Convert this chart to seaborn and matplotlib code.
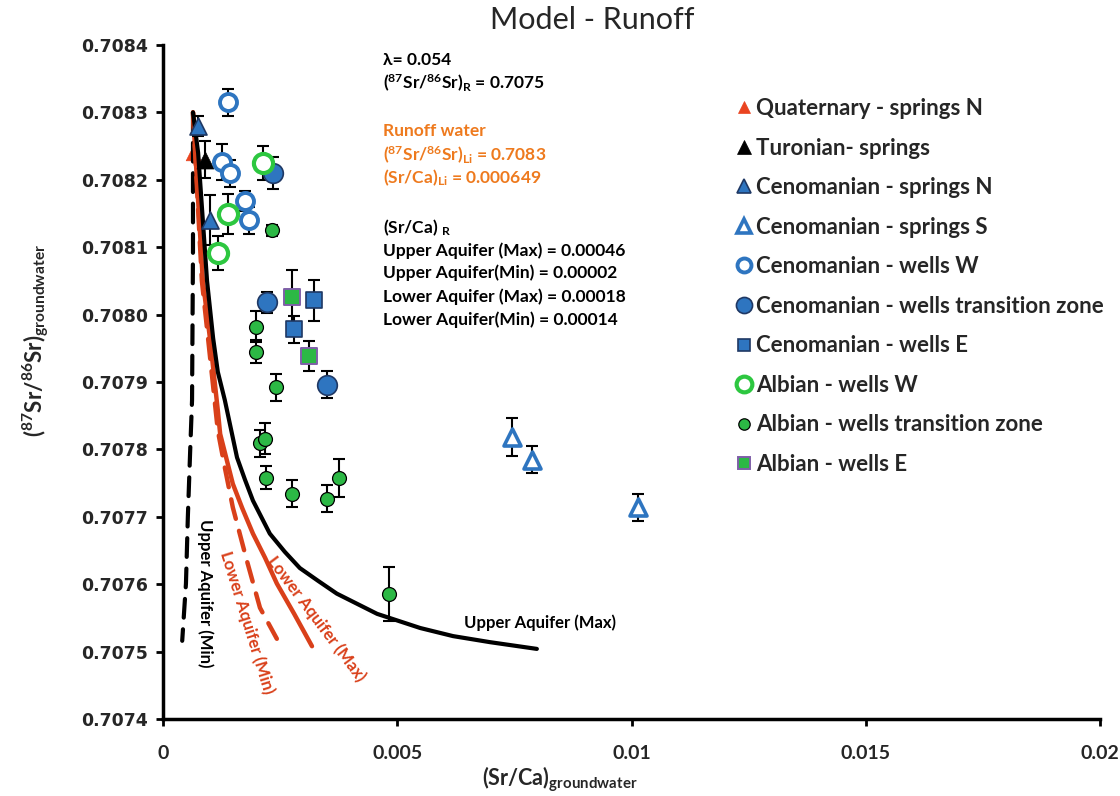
import matplotlib
matplotlib.use("Agg")
import matplotlib.pyplot as plt
from matplotlib.lines import Line2D
import seaborn as sns

# ---- model curves: (Sr/Ca) vs 87Sr/86Sr ----
upper_max_x = [0.00064, 0.00075, 0.00094, 0.00107, 0.00117, 0.00132, 0.00158, 0.00175, 0.00192,
               0.00228, 0.00260, 0.00292, 0.00331, 0.00371, 0.00414, 0.00457, 0.00549, 0.00619,
               0.00698, 0.00798]
upper_max_y = [0.70830, 0.70824, 0.70805, 0.707965, 0.707915, 0.707873, 0.707788, 0.707755, 0.707724,
               0.707675, 0.707648, 0.707624, 0.707605, 0.707586, 0.707571, 0.707556, 0.707535, 0.707523,
               0.707514, 0.707504]
upper_min_x = [0.00064, 0.00064, 0.00062, 0.00058, 0.00053, 0.00049, 0.00041]
upper_min_y = [0.70830, 0.708095, 0.707873, 0.707798, 0.707699, 0.707601, 0.707516]
lower_max_x = [0.00064, 0.00085, 0.00100, 0.00117, 0.00122, 0.00149, 0.00169, 0.00192, 0.00218,
               0.00243, 0.00280, 0.00318]
lower_max_y = [0.70830, 0.70805, 0.707966, 0.707858, 0.707823, 0.707749, 0.707713, 0.707675, 0.707639,
               0.707601, 0.707556, 0.707508]
lower_min_x = [0.00064, 0.00083, 0.00096, 0.00117, 0.00132, 0.00149, 0.00179, 0.00207, 0.00243]
lower_min_y = [0.70830, 0.70805, 0.707966, 0.707828, 0.707773, 0.707714, 0.707635, 0.707565, 0.707519]

# ---- groundwater samples ----
quat_n_x = [0.00064]
quat_n_y = [0.70824]
quat_n_err = [0.0]

turon_x = [0.00090]
turon_y = [0.70823]
turon_err = [0.000027]

cen_spr_n_x = [0.00075, 0.00100]
cen_spr_n_y = [0.70828, 0.70814]
cen_spr_n_err = [0.000015, 0.000037]

cen_spr_s_x = [0.00745, 0.00788, 0.01014]
cen_spr_s_y = [0.707818, 0.707785, 0.707714]
cen_spr_s_err = [0.000028, 0.00002, 0.00002]

cen_w_w_x = [0.00139, 0.00126, 0.00143, 0.00175, 0.00184]
cen_w_w_y = [0.708315, 0.708226, 0.708210, 0.708168, 0.708140]
cen_w_w_err = [0.00002, 0.000027, 0.00002, 0.000015, 0.00002]

cen_w_tz_x = [0.00235, 0.00222, 0.00350]
cen_w_tz_y = [0.708210, 0.708018, 0.707896]
cen_w_tz_err = [0.000024, 0.000015, 0.00002]

cen_w_e_x = [0.00322, 0.00280]
cen_w_e_y = [0.708021, 0.707978]
cen_w_e_err = [0.00003, 0.00002]

alb_w_w_x = [0.00213, 0.00139, 0.00117]
alb_w_w_y = [0.708225, 0.708149, 0.708091]
alb_w_w_err = [0.000025, 0.00003, 0.000025]

alb_w_tz_x = [0.00233, 0.00199, 0.00199, 0.00241, 0.00207, 0.00218, 0.00220,
              0.00275, 0.00350, 0.00376, 0.00482]
alb_w_tz_y = [0.708125, 0.707982, 0.707945, 0.707892, 0.707809, 0.707816, 0.707758,
              0.707734, 0.707727, 0.707758, 0.707586]
alb_w_tz_err = [0.000008, 0.000023, 0.000017, 0.00002, 0.00002, 0.000023, 0.000017,
                0.00002, 0.00002, 0.000028, 0.00004]

alb_w_e_x = [0.00275, 0.00312]
alb_w_e_y = [0.708026, 0.707939]
alb_w_e_err = [0.00004, 0.000022]

x_ticks = [0, 0.005, 0.01, 0.015, 0.02]
x_tick_labels = ["0", "0.005", "0.01", "0.015", "0.02"]
y_ticks = [0.7074, 0.7075, 0.7076, 0.7077, 0.7078, 0.7079, 0.7080, 0.7081, 0.7082, 0.7083, 0.7084]

legend_labels = ["Quaternary - springs N", "Turonian- springs", "Cenomanian - springs N",
                 "Cenomanian - springs S", "Cenomanian - wells W",
                 "Cenomanian - wells transition zone", "Cenomanian - wells E",
                 "Albian - wells W", "Albian - wells transition zone", "Albian - wells E"]

# ---- style ----
sns.set_theme(style="ticks")
FAM = ["Lato", "DejaVu Sans"]
plt.rcParams["font.family"] = FAM

BLUE = "#2E75C0"
NAVY = "#1F3864"
GREEN = "#2CB845"
LGREEN = "#2DC740"
RED = "#D9401A"
QRED = "#EA4420"
ORANGE = "#EE7A1E"
PURPLE = "#7F5FA8"

fig = plt.figure(figsize=(11.2, 7.96), dpi=100)
ax = fig.add_axes([163 / 1120, 77 / 796, 937 / 1120, 674 / 796])

# curves
sns.lineplot(x=upper_min_x, y=upper_min_y, sort=False, estimator=None, ax=ax,
             color="black", linewidth=3, zorder=2)
ax.lines[-1].set_dashes([4.5, 2.8])
sns.lineplot(x=lower_min_x, y=lower_min_y, sort=False, estimator=None, ax=ax,
             color=RED, linewidth=3.2, zorder=2)
ax.lines[-1].set_dashes([4.5, 2.8])
sns.lineplot(x=lower_max_x, y=lower_max_y, sort=False, estimator=None, ax=ax,
             color=RED, linewidth=3.2, zorder=2)
sns.lineplot(x=upper_max_x, y=upper_max_y, sort=False, estimator=None, ax=ax,
             color="black", linewidth=3, zorder=2)
for ln in ax.lines:
    ln.set_solid_joinstyle("round")
    ln.set_dash_capstyle("round")

groups = [
    (quat_n_x, quat_n_y, quat_n_err, dict(marker="^", s=110, color=QRED, edgecolor=QRED, linewidth=0.5), 1),
    (turon_x, turon_y, turon_err, dict(marker="^", s=150, color="black", edgecolor="black", linewidth=0.5), 4),
    (cen_spr_n_x, cen_spr_n_y, cen_spr_n_err, dict(marker="^", s=150, color=BLUE, edgecolor=NAVY, linewidth=1.2), 4),
    (cen_spr_s_x, cen_spr_s_y, cen_spr_s_err, dict(marker="^", s=150, color="white", edgecolor=BLUE, linewidth=2.6), 4),
    (cen_w_w_x, cen_w_w_y, cen_w_w_err, dict(marker="o", s=150, color="white", edgecolor=BLUE, linewidth=2.8), 4),
    (cen_w_tz_x, cen_w_tz_y, cen_w_tz_err, dict(marker="o", s=200, color=BLUE, edgecolor=NAVY, linewidth=1.2), 4),
    (cen_w_e_x, cen_w_e_y, cen_w_e_err, dict(marker="s", s=120, color=BLUE, edgecolor=NAVY, linewidth=1.2), 4),
    (alb_w_w_x, alb_w_w_y, alb_w_w_err, dict(marker="o", s=190, color="white", edgecolor=LGREEN, linewidth=3.0), 4),
    (alb_w_tz_x, alb_w_tz_y, alb_w_tz_err, dict(marker="o", s=100, color=GREEN, edgecolor="black", linewidth=0.9), 4),
    (alb_w_e_x, alb_w_e_y, alb_w_e_err, dict(marker="s", s=120, color=GREEN, edgecolor=PURPLE, linewidth=1.4), 4),
]

for gx, gy, gerr, kw, z in groups:
    if any(e > 0 for e in gerr):
        ax.errorbar(gx, gy, yerr=gerr, fmt="none", ecolor="black", elinewidth=1.5,
                    capsize=4.5, capthick=1.5, zorder=z - 0.5)
    sns.scatterplot(x=gx, y=gy, ax=ax, zorder=z, legend=False, **kw)

# axes
ax.set_xlim(0, 0.02)
ax.set_ylim(0.7074, 0.7084)
ax.set_xticks(x_ticks)
ax.set_xticklabels(x_tick_labels)
ax.set_yticks(y_ticks)
ax.set_yticklabels([f"{v:.4f}" for v in y_ticks])
sns.despine(ax=ax)
for sp in ("left", "bottom"):
    ax.spines[sp].set_linewidth(2.5)
    ax.spines[sp].set_color("black")
ax.tick_params(axis="both", direction="out", length=5, width=2, color="black")
ax.tick_params(axis="x", pad=14)
ax.tick_params(axis="y", pad=6)
for t in ax.get_xticklabels():
    t.set_fontfamily(FAM)
    t.set_fontweight("bold")
    t.set_fontsize(14)
for t in ax.get_yticklabels():
    t.set_fontfamily(["DejaVu Sans"])
    t.set_fontweight("bold")
    t.set_fontsize(12.5)

ax.set_xlabel(r"$\mathregular{(Sr/Ca)_{groundwater}}$", fontsize=15.5, fontweight="bold")
ax.xaxis.set_label_coords((560 - 163) / 937, (719 - 764) / 674)
ax.set_ylabel(r"$\mathregular{(^{87}Sr/^{86}Sr)_{groundwater}}$", fontsize=16, fontweight="bold")
ax.yaxis.set_label_coords((52 - 163) / 937, (719 - 340) / 674)

fig.text(592 / 1120, 1 - 20 / 796, "Model - Runoff", fontsize=22, ha="center", va="center")

# model parameter notes
def ftext(px, py, s, color="black", size=12.5):
    fig.text(px / 1120, 1 - py / 796, s, fontsize=size, fontweight="bold", color=color,
             ha="left", va="center")

ftext(383, 60, "λ= 0.054")
ftext(383, 83, r"$\mathregular{(^{87}Sr/^{86}Sr)_{R}}$ = 0.7075")
ftext(383, 131, "Runoff water", ORANGE)
ftext(383, 155, r"$\mathregular{(^{87}Sr/^{86}Sr)_{Li}}$ = 0.7083", ORANGE)
ftext(383, 178, r"$\mathregular{(Sr/Ca)_{Li}}$ = 0.000649", ORANGE)
ftext(383, 228, r"(Sr/Ca)$\mathregular{_{\ R}}$")
ftext(383, 251, "Upper Aquifer (Max) = 0.00046")
ftext(383, 273, "Upper Aquifer(Min) = 0.00002")
ftext(383, 297, "Lower Aquifer (Max) = 0.00018")
ftext(383, 320, "Lower Aquifer(Min) = 0.00014")

# curve labels
ax.text(0.00090, 0.707586, "Upper Aquifer (Min)", rotation=-90, fontsize=12, fontweight="bold",
        color="black", ha="center", va="center", rotation_mode="anchor")
ax.text(0.00179, 0.707543, "Lower Aquifer (Min)", rotation=-72.7, fontsize=12, fontweight="bold",
        color=RED, ha="center", va="center", rotation_mode="anchor")
ax.text(0.00327, 0.707549, "Lower Aquifer (Max)", rotation=-53, fontsize=12, fontweight="bold",
        color=RED, ha="center", va="center", rotation_mode="anchor")
ax.text(0.00805, 0.707543, "Upper Aquifer (Max)", fontsize=12, fontweight="bold",
        color="black", ha="center", va="center")

# legend
handles = []
for (gx, gy, gerr, kw, z) in groups:
    ms = (kw["s"] ** 0.5) * 0.82
    handles.append(Line2D([], [], linestyle="none", marker=kw["marker"], markersize=ms,
                          markerfacecolor=kw["color"], markeredgecolor=kw["edgecolor"],
                          markeredgewidth=kw["linewidth"]))
leg = fig.legend(handles, legend_labels, loc="upper left",
                 bbox_to_anchor=(733 / 1120, 1 - 98 / 796), frameon=False,
                 prop={"family": FAM, "weight": "bold", "size": 16},
                 labelspacing=0.835, handletextpad=0.05, handlelength=1.0, borderaxespad=0,
                 borderpad=0)

fig.savefig("out.png", dpi=100)
